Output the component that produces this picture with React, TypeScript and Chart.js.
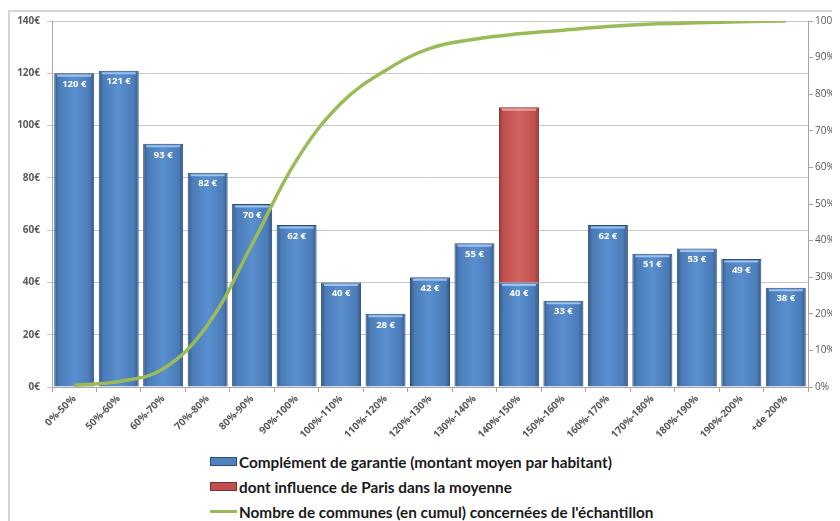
import React, { useEffect, useRef } from "react";
import { Chart, registerables } from "chart.js";

Chart.register(...registerables);

// Tranches of the ratio, as shown on the category axis
const categories = [
  "0%-50%", "50%-60%", "60%-70%", "70%-80%", "80%-90%", "90%-100%",
  "100%-110%", "110%-120%", "120%-130%", "130%-140%", "140%-150%",
  "150%-160%", "160%-170%", "170%-180%", "180%-190%", "190%-200%", "+de 200%",
];

// Complément de garantie, montant moyen par habitant (€)
const complement = [120, 121, 93, 82, 70, 62, 40, 28, 42, 55, 40, 33, 62, 51, 53, 49, 38];

// Part of the 140%-150% average that comes from Paris (€)
const parisInfluence = [null, null, null, null, null, null, null, null, null, null, 67, null, null, null, null, null, null];

// Cumulative share of the sample's communes (%)
const cumulCommunes = [0.5, 1.5, 5, 17, 39, 62, 77.5, 86.5, 92.5, 95, 96.5, 97.5, 98.5, 99.2, 99.5, 99.8, 100];

const leftTicks = [0, 20, 40, 60, 80, 100, 120, 140];
const rightTicks = [0, 10, 20, 30, 40, 50, 60, 70, 80, 90, 100];

const legendItems = [
  { label: "Complément de garantie (montant moyen par habitant)", kind: "bar", color: "#4F81BD", edge: "#2c4d75" },
  { label: "dont influence de Paris dans la moyenne", kind: "bar", color: "#C0504D", edge: "#7d2f2d" },
  { label: "Nombre de communes (en cumul) concernées de l'échantillon", kind: "line", color: "#9BBB59", edge: "#9BBB59" },
];

function barGradient(ctx: any, dark: string, mid: string, light: string) {
  const chart = ctx.chart;
  const xs = chart.scales?.x;
  if (!xs || ctx.dataIndex === undefined) return mid;
  const cx = xs.getPixelForValue(ctx.dataIndex);
  const w = (xs.width / categories.length) * 0.9;
  if (!isFinite(cx) || !isFinite(w)) return mid;
  const g = chart.ctx.createLinearGradient(cx - w / 2, 0, cx + w / 2, 0);
  g.addColorStop(0, dark);
  g.addColorStop(0.12, mid);
  g.addColorStop(0.5, light);
  g.addColorStop(0.88, mid);
  g.addColorStop(1, dark);
  return g;
}

// Value labels inside the blue bars plus a thin highlight along each bar top
const barDecor = {
  id: "barDecor",
  afterDatasetsDraw(chart: any) {
    const c = chart.ctx;
    [0, 1].forEach((di) => {
      const meta = chart.getDatasetMeta(di);
      meta.data.forEach((el: any, i: number) => {
        const v = chart.data.datasets[di].data[i];
        if (v == null) return;
        const half = el.width / 2;
        c.save();
        c.strokeStyle = di === 0 ? "rgba(160,196,240,0.95)" : "rgba(240,160,158,0.95)";
        c.lineWidth = 2;
        c.beginPath();
        c.moveTo(el.x - half + 3, el.y + 2.5);
        c.lineTo(el.x + half - 3, el.y + 2.5);
        c.stroke();
        c.restore();
      });
    });
    const meta0 = chart.getDatasetMeta(0);
    meta0.data.forEach((el: any, i: number) => {
      c.save();
      c.fillStyle = "#ffffff";
      c.font = "bold 9.5px 'Open Sans', sans-serif";
      c.textAlign = "center";
      c.textBaseline = "middle";
      c.fillText(complement[i] + " €", el.x, el.y + 11);
      c.restore();
    });
  },
};

export default function App() {
  const ref = useRef<HTMLCanvasElement | null>(null);

  useEffect(() => {
    document.body.style.overflow = "hidden";
    if (!ref.current) return;
    const chart = new Chart(ref.current, {
      type: "bar",
      data: {
        labels: categories,
        datasets: [
          {
            type: "bar",
            label: legendItems[0].label,
            data: complement,
            yAxisID: "y",
            stack: "s",
            order: 1,
            backgroundColor: (ctx: any) => barGradient(ctx, "#33598a", "#4a7cb8", "#5a8fcf"),
            borderColor: "#2c4d75",
            borderWidth: 1,
            barPercentage: 0.9,
            categoryPercentage: 1,
          },
          {
            type: "bar",
            label: legendItems[1].label,
            data: parisInfluence,
            yAxisID: "y",
            stack: "s",
            order: 1,
            backgroundColor: (ctx: any) => barGradient(ctx, "#9a3b39", "#c0504d", "#d06360"),
            borderColor: "#7d2f2d",
            borderWidth: 1,
            barPercentage: 0.9,
            categoryPercentage: 1,
          },
          {
            type: "line",
            label: legendItems[2].label,
            data: cumulCommunes,
            yAxisID: "y1",
            order: 0,
            borderColor: "#9BBB59",
            borderWidth: 3.5,
            pointRadius: 0,
            fill: false,
            tension: 0.4,
          },
        ],
      } as any,
      options: {
        animation: false,
        responsive: false,
        layout: { padding: { top: 13, left: 0, right: 0, bottom: 0 } },
        plugins: {
          legend: { display: false },
          tooltip: { enabled: false },
        },
        scales: {
          x: {
            stacked: true,
            afterFit: (s: any) => { s.height = 51; },
            grid: { drawOnChartArea: false, drawTicks: true, tickLength: 5, color: "#a6a6a6", offset: true },
            border: { color: "#a6a6a6" },
            ticks: {
              autoSkip: false,
              maxRotation: 45,
              minRotation: 45,
              padding: 1,
              color: "#595959",
              font: { family: "'Open Sans', sans-serif", size: 10, weight: "bold" },
            },
          },
          y: {
            stacked: true,
            position: "left",
            min: 0,
            max: 140,
            afterFit: (s: any) => { s.width = 44; },
            afterBuildTicks: (s: any) => { s.ticks = leftTicks.map((v) => ({ value: v })); },
            grid: { color: "#c6c6c6", tickLength: 5 },
            border: { color: "#a6a6a6" },
            ticks: {
              padding: 7,
              color: "#595959",
              font: { family: "'Open Sans', sans-serif", size: 10, weight: "bold" },
              callback: (v: any) => v + "€",
            },
          },
          y1: {
            position: "right",
            min: 0,
            max: 100,
            afterFit: (s: any) => { s.width = 32; },
            afterBuildTicks: (s: any) => { s.ticks = rightTicks.map((v) => ({ value: v })); },
            grid: { drawOnChartArea: false, tickLength: 5, color: "#a6a6a6" },
            border: { color: "#a6a6a6" },
            ticks: {
              padding: 2,
              color: "#595959",
              font: { family: "'Open Sans', sans-serif", size: 10 },
              callback: (v: any) => v + "%",
            },
          },
        },
      } as any,
      plugins: [barDecor],
    });
    return () => chart.destroy();
  }, []);

  return (
    <div style={{ position: "relative", width: 832, height: 513, fontFamily: "Lato, sans-serif" }}>
      <div
        style={{
          position: "absolute",
          left: 0,
          top: 2,
          right: 0,
          bottom: 0,
          borderLeft: "2px solid #d4d4d4",
          borderTop: "2px solid #d4d4d4",
        }}
      />
      <canvas
        ref={ref}
        width={832}
        height={430}
        style={{ position: "absolute", left: 0, top: 0, width: 832, height: 430 }}
      />
      <div style={{ position: "absolute", left: 202, top: 441 }}>
        {legendItems.map((it) => (
          <div key={it.label} style={{ display: "flex", alignItems: "center", height: 25, whiteSpace: "nowrap" }}>
            {it.kind === "bar" ? (
              <span
                style={{
                  display: "inline-block",
                  width: 25,
                  height: 7,
                  background: it.color,
                  border: "1px solid " + it.edge,
                  marginRight: 2,
                }}
              />
            ) : (
              <span
                style={{ display: "inline-block", width: 27, height: 3, background: it.color, marginRight: 2 }}
              />
            )}
            <span style={{ fontSize: 15.3, fontWeight: 700, color: "#1a1a1a" }}>{it.label}</span>
          </div>
        ))}
      </div>
    </div>
  );
}
